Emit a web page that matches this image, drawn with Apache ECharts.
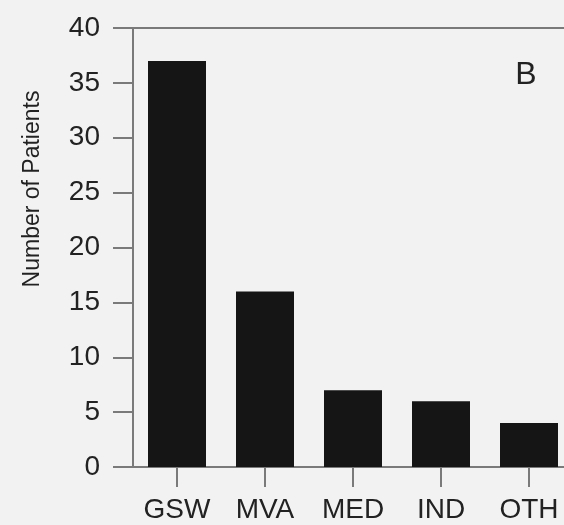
<!DOCTYPE html>
<html>
<head>
<meta charset="utf-8">
<script src="https://cdn.jsdelivr.net/npm/echarts@6/dist/echarts.min.js"></script>
<style>
  html, body { margin: 0; padding: 0; background: #f2f2f2; overflow: hidden; }
  /* the last bar runs slightly past the right edge of the page */
  #chart { width: 573px; height: 525px; }
</style>
</head>
<body>
<div id="chart"></div>
<script>
// Causes of injury and how many patients fall into each
const categories = ['GSW', 'MVA', 'MED', 'IND', 'OTH'];
const patientCounts = [37, 16, 7, 6, 4];
const yTicks = [0, 5, 10, 15, 20, 25, 30, 35, 40];

const FONT = '"Liberation Sans", Arial, Helvetica, sans-serif';
const AXIS_GRAY = '#7a7a7a';
const TEXT = '#222222';

const chart = echarts.init(document.getElementById('chart'), null, { renderer: 'canvas' });

chart.setOption({
  backgroundColor: '#f2f2f2',
  animation: false,
  grid: { left: 133, right: 0, top: 28, bottom: 58, containLabel: false },
  xAxis: [
    {
      type: 'category',
      data: categories,
      position: 'bottom',
      axisLine: { show: true, lineStyle: { color: AXIS_GRAY, width: 2 } },
      axisTick: { show: true, alignWithLabel: true, length: 20, lineStyle: { color: AXIS_GRAY, width: 2 } },
      axisLabel: { color: TEXT, fontFamily: FONT, fontSize: 28, margin: 29 }
    },
    {
      // plain frame line across the top at the 40 mark
      type: 'category',
      data: categories,
      position: 'top',
      axisLine: { show: true, lineStyle: { color: AXIS_GRAY, width: 2 } },
      axisTick: { show: false },
      axisLabel: { show: false }
    }
  ],
  yAxis: {
    type: 'value',
    min: yTicks[0],
    max: yTicks[yTicks.length - 1],
    interval: yTicks[1] - yTicks[0],
    axisLine: { show: true, lineStyle: { color: AXIS_GRAY, width: 2 } },
    axisTick: { show: true, length: 20, lineStyle: { color: AXIS_GRAY, width: 2 } },
    splitLine: { show: false },
    axisLabel: { color: TEXT, fontFamily: FONT, fontSize: 28, margin: 33 }
  },
  graphic: [
    {
      type: 'text',
      x: 33,
      y: 189,
      rotation: Math.PI / 2,
      style: {
        text: 'Number of Patients',
        fill: TEXT,
        font: '23px ' + FONT,
        textAlign: 'center',
        textVerticalAlign: 'middle'
      }
    },
    {
      type: 'text',
      x: 526,
      y: 75,
      style: {
        text: 'B',
        fill: TEXT,
        font: '32px ' + FONT,
        textAlign: 'center',
        textVerticalAlign: 'middle'
      }
    }
  ],
  series: [
    {
      type: 'bar',
      data: patientCounts,
      barWidth: 58,
      itemStyle: { color: '#151515' }
    }
  ]
});
</script>
</body>
</html>
